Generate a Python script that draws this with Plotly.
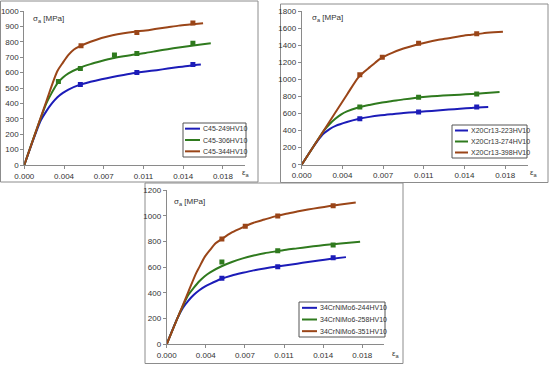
import plotly.graph_objects as go

# ---------------- data ----------------
tick_vals = [0.0, 0.0036, 0.0072, 0.0108, 0.0144, 0.018]
tick_text = ["0.000", "0.004", "0.007", "0.011", "0.014", "0.018"]

# Panel 1: C45
c45_names = ["C45-249HV10", "C45-306HV10", "C45-344HV10"]
c45_249_eps = [0, 0.001, 0.0015, 0.002, 0.0025, 0.003, 0.0035, 0.004, 0.005, 0.006, 0.007, 0.008, 0.009, 0.010, 0.011, 0.012, 0.013, 0.014, 0.015, 0.016]
c45_249_sig = [0, 200, 290, 350, 400, 440, 468, 490, 520, 540, 557, 572, 585, 597, 607, 616, 626, 636, 645, 652]
c45_306_eps = [0, 0.001, 0.002, 0.0025, 0.003, 0.0035, 0.004, 0.005, 0.006, 0.007, 0.008, 0.009, 0.010, 0.011, 0.012, 0.013, 0.014, 0.015, 0.016, 0.0169]
c45_306_sig = [0, 207, 400, 470, 530, 568, 595, 630, 655, 675, 693, 706, 718, 728, 740, 752, 763, 773, 782, 790]
c45_344_eps = [0, 0.001, 0.002, 0.003, 0.0035, 0.004, 0.0045, 0.005, 0.006, 0.007, 0.008, 0.009, 0.010, 0.011, 0.012, 0.013, 0.014, 0.015, 0.0162]
c45_344_sig = [0, 207, 414, 610, 665, 715, 750, 770, 800, 825, 843, 856, 866, 874, 885, 895, 905, 912, 920]
c45_249_mx = [0.00508, 0.0102, 0.01528]
c45_249_my = [523, 601, 653]
c45_306_mx = [0.00309, 0.00508, 0.00817, 0.0102, 0.01528]
c45_306_my = [542, 627, 714, 724, 790]
c45_344_mx = [0.00514, 0.0102, 0.01528]
c45_344_my = [774, 861, 922]

# Panel 2: X20Cr13
x20_names = ["X20Cr13-223HV10", "X20Cr13-274HV10", "X20Cr13-398HV10"]
x20_223_eps = [0, 0.001, 0.0017, 0.002, 0.0025, 0.003, 0.004, 0.005, 0.006, 0.007, 0.008, 0.009, 0.010, 0.011, 0.012, 0.013, 0.014, 0.015, 0.0165]
x20_223_sig = [0, 205, 330, 370, 420, 455, 500, 535, 560, 578, 592, 605, 615, 625, 635, 645, 655, 665, 676]
x20_274_eps = [0, 0.001, 0.002, 0.0025, 0.003, 0.0035, 0.004, 0.005, 0.006, 0.007, 0.008, 0.009, 0.010, 0.011, 0.012, 0.013, 0.014, 0.015, 0.016, 0.0175]
x20_274_sig = [0, 205, 405, 480, 540, 590, 625, 670, 700, 725, 745, 765, 782, 795, 805, 813, 820, 828, 836, 850]
x20_398_eps = [0, 0.002, 0.004, 0.005, 0.0055, 0.006, 0.0065, 0.007, 0.008, 0.009, 0.010, 0.011, 0.012, 0.013, 0.014, 0.015, 0.016, 0.017, 0.0178]
x20_398_sig = [0, 410, 820, 1020, 1085, 1140, 1195, 1245, 1310, 1360, 1400, 1432, 1460, 1482, 1505, 1522, 1538, 1550, 1558]
x20_223_mx = [0.00514, 0.01034, 0.01548]
x20_223_my = [539, 617, 676]
x20_274_mx = [0.00514, 0.01034, 0.01548]
x20_274_my = [676, 789, 828]
x20_398_mx = [0.00514, 0.00713, 0.01034, 0.01548]
x20_398_my = [1054, 1257, 1421, 1535]

# Panel 3: 34CrNiMo6
crn_names = ["34CrNiMo6-244HV10", "34CrNiMo6-258HV10", "34CrNiMo6-351HV10"]
crn_244_eps = [0, 0.001, 0.0015, 0.002, 0.0025, 0.003, 0.0035, 0.004, 0.005, 0.006, 0.007, 0.008, 0.009, 0.010, 0.011, 0.012, 0.013, 0.014, 0.015, 0.0165]
crn_244_sig = [0, 205, 285, 340, 385, 420, 448, 470, 508, 535, 556, 575, 590, 603, 615, 627, 640, 652, 663, 678]
crn_258_eps = [0, 0.001, 0.0015, 0.002, 0.0025, 0.003, 0.0035, 0.004, 0.005, 0.006, 0.007, 0.008, 0.009, 0.010, 0.011, 0.012, 0.013, 0.014, 0.015, 0.016, 0.0178]
crn_258_sig = [0, 205, 300, 385, 440, 490, 530, 560, 605, 640, 668, 690, 708, 722, 735, 746, 757, 767, 776, 784, 798]
crn_351_eps = [0, 0.001, 0.002, 0.0027, 0.003, 0.0035, 0.004, 0.0045, 0.005, 0.006, 0.007, 0.008, 0.009, 0.010, 0.011, 0.012, 0.013, 0.014, 0.015, 0.016, 0.0174]
crn_351_sig = [0, 205, 410, 552, 600, 680, 735, 785, 815, 870, 910, 945, 970, 995, 1015, 1032, 1048, 1062, 1075, 1087, 1102]
crn_244_mx = [0.00508, 0.01022, 0.01532]
crn_244_my = [513, 604, 674]
crn_258_mx = [0.00508, 0.01022, 0.01532]
crn_258_my = [640, 728, 772]
crn_351_mx = [0.00508, 0.00723, 0.01022, 0.01532]
crn_351_my = [819, 918, 998, 1078]

# ---------------- styling ----------------
W, H = 550, 365
colors = ["#1c1cb8", "#2f7a1e", "#9a4518"]
FONT = "Liberation Sans, Arial, sans-serif"
AX_COL = "#8a8a8a"

def px(x):
    return x / W

def py(y):
    return 1 - y / H

fig = go.Figure()

panels = [
    dict(names=c45_names,
         curves=[(c45_249_eps, c45_249_sig), (c45_306_eps, c45_306_sig), (c45_344_eps, c45_344_sig)],
         marks=[(c45_249_mx, c45_249_my), (c45_306_mx, c45_306_my), (c45_344_mx, c45_344_my)],
         xdom=[px(24.3), px(245.0)], ydom=[py(165), py(11)], yr=[0, 1000], dt=100,
         leg=(183, 123, 246, 157, 185, 200), sig=(31, 19), eps=(240, 173), sfx=""),
    dict(names=x20_names,
         curves=[(x20_223_eps, x20_223_sig), (x20_274_eps, x20_274_sig), (x20_398_eps, x20_398_sig)],
         marks=[(x20_223_mx, x20_223_my), (x20_274_mx, x20_274_my), (x20_398_mx, x20_398_my)],
         xdom=[px(301.7), px(527.8)], ydom=[py(164.7), py(11)], yr=[0, 1800], dt=200,
         leg=(452, 125, 527, 158, 455, 468), sig=(310, 18), eps=(528, 173), sfx="2"),
    dict(names=crn_names,
         curves=[(crn_244_eps, crn_244_sig), (crn_258_eps, crn_258_sig), (crn_351_eps, crn_351_sig)],
         marks=[(crn_244_mx, crn_244_my), (crn_258_mx, crn_258_my), (crn_351_mx, crn_351_my)],
         xdom=[px(166.7), px(384.0)], ydom=[py(344.3), py(190)], yr=[0, 1200], dt=200,
         leg=(299, 302, 385, 337, 302, 317), sig=(172, 202), eps=(390, 354), sfx="3"),
]

layout = dict(
    width=W, height=H, margin=dict(l=0, r=0, t=0, b=0, autoexpand=False),
    paper_bgcolor="white", plot_bgcolor="white",
    font=dict(family=FONT, size=8, color="#333333"),
    showlegend=False,
)
annotations = []
shapes = []

for i, p in enumerate(panels):
    sfx = p["sfx"]
    xa = "x" + sfx
    ya = "y" + sfx
    for j in range(3):
        ex, sy = p["curves"][j]
        fig.add_trace(go.Scatter(
            x=ex, y=sy, mode="lines", name=p["names"][j],
            line=dict(color=colors[j], width=2, shape="spline", smoothing=0.8),
            xaxis=xa, yaxis=ya, hoverinfo="skip"))
    for j in range(3):
        mx, my = p["marks"][j]
        fig.add_trace(go.Scatter(
            x=mx, y=my, mode="markers",
            marker=dict(color=colors[j], size=5, symbol="square"),
            xaxis=xa, yaxis=ya, hoverinfo="skip"))
    layout["xaxis" + sfx] = dict(
        domain=p["xdom"], anchor=ya, range=[0, 0.02],
        tickmode="array", tickvals=tick_vals, ticktext=tick_text,
        showgrid=False, zeroline=False, showline=True, linecolor=AX_COL, linewidth=1,
        ticks="outside", ticklen=3, tickcolor=AX_COL, ticklabeloverflow="allow",
        tickfont=dict(size=8, color="#333"))
    layout["yaxis" + sfx] = dict(
        domain=p["ydom"], anchor=xa, range=p["yr"], dtick=p["dt"], tick0=0,
        showgrid=False, zeroline=False, showline=True, linecolor=AX_COL, linewidth=1,
        ticks="outside", ticklen=3, tickcolor=AX_COL, ticklabeloverflow="allow",
        tickfont=dict(size=8, color="#333"))

    # legend box (drawn in paper coordinates)
    lx0, ly0, lx1, ly1, sx0, sx1 = p["leg"]
    shapes.append(dict(type="rect", xref="paper", yref="paper",
                       x0=px(lx0), x1=px(lx1), y0=py(ly1), y1=py(ly0),
                       line=dict(color="#555555", width=1), fillcolor="white", layer="above"))
    step = (ly1 - ly0) / 3.0
    for j in range(3):
        yy = ly0 + step * (j + 0.5)
        shapes.append(dict(type="line", xref="paper", yref="paper",
                           x0=px(sx0), x1=px(sx1), y0=py(yy), y1=py(yy),
                           line=dict(color=colors[j], width=2), layer="above"))
        annotations.append(dict(
            x=px(sx1 + 0.5), y=py(yy), xref="paper", yref="paper",
            text=p["names"][j], showarrow=False, xanchor="left", yanchor="middle",
            font=dict(size=7, color="#333")))

    annotations.append(dict(
        x=px(p["sig"][0]), y=py(p["sig"][1]), xref="paper", yref="paper",
        text="σ<sub>a</sub> [MPa]", showarrow=False, xanchor="left", yanchor="middle",
        font=dict(size=8, color="#333")))
    annotations.append(dict(
        x=px(p["eps"][0]), y=py(p["eps"][1]), xref="paper", yref="paper",
        text="ε<sub>a</sub>", showarrow=False, xanchor="left", yanchor="middle",
        font=dict(size=8, color="#333")))

boxes = [(0.5, 1.0, 258, 182), (280.5, 4, 548, 182.5), (145, 183, 403, 363.5)]
for (x0, y0, x1, y1) in boxes:
    shapes.append(dict(type="rect", xref="paper", yref="paper",
                       x0=px(x0), x1=px(x1), y0=py(y1), y1=py(y0),
                       line=dict(color="#8c8c8c", width=1), fillcolor="rgba(0,0,0,0)", layer="below"))

layout["annotations"] = annotations
layout["shapes"] = shapes
fig.update_layout(**layout)
fig.write_html("out.html", config={"displayModeBar": False},
               post_script="document.body.style.margin='0';document.body.style.padding='0';")
